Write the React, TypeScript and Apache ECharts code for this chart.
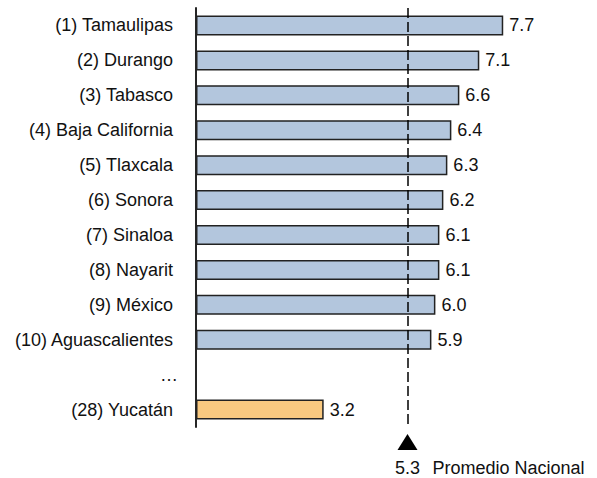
import React, { useEffect, useRef } from "react";
import * as echarts from "echarts";

const categories = [
  "(1) Tamaulipas",
  "(2) Durango",
  "(3) Tabasco",
  "(4) Baja California",
  "(5) Tlaxcala",
  "(6) Sonora",
  "(7) Sinaloa",
  "(8) Nayarit",
  "(9) México",
  "(10) Aguascalientes",
  "…",
  "(28) Yucatán",
];
const values: (number | null)[] = [7.7, 7.1, 6.6, 6.4, 6.3, 6.2, 6.1, 6.1, 6.0, 5.9, null, 3.2];
const highlighted = ["(28) Yucatán"];
const nationalAverage = 5.3;
const averageLabel = "Promedio Nacional";

const FONT = "'Liberation Sans', Arial, sans-serif";
const TEXT = "#111";
const FS = 18;

export default function App() {
  const ref = useRef<HTMLDivElement>(null);
  useEffect(() => {
    if (!ref.current) return;
    const chart = echarts.init(ref.current, null, { renderer: "svg" });
    const data = values.map((v, i) => ({
      value: v,
      itemStyle: {
        color: highlighted.includes(categories[i]) ? "#f9c980" : "#b3c6dd",
      },
    }));
    chart.setOption({
      animation: false,
      grid: { left: 196, top: 8, height: 419, width: 399, containLabel: false },
      xAxis: {
        type: "value",
        min: 0,
        max: 10,
        show: false,
      },
      yAxis: {
        type: "category",
        data: categories,
        inverse: true,
        axisLine: { show: true, lineStyle: { color: "#262626", width: 2 } },
        axisTick: { show: false },
        axisLabel: {
          color: TEXT,
          fontFamily: FONT,
          fontSize: FS,
          margin: 23,
          formatter: (v: string) => (v === "…" ? "{dots|" + v + "}" : v),
          rich: {
            dots: { color: TEXT, fontFamily: FONT, fontSize: FS, padding: [0, -5, 0, 0] },
          },
        },
        splitLine: { show: false },
      },
      series: [
        {
          type: "bar",
          data,
          barWidth: 20,
          itemStyle: { borderColor: "#222", borderWidth: 1.5 },
          label: {
            show: true,
            position: "right",
            distance: 6,
            color: TEXT,
            fontFamily: FONT,
            fontSize: FS,
            formatter: (p: any) => (p.value == null ? "" : Number(p.value).toFixed(1)),
          },
          markLine: {
            silent: true,
            symbol: "none",
            label: { show: false },
            lineStyle: { color: "#000", width: 1.5, type: [10, 4] },
            data: [{ xAxis: nationalAverage }],
          },
        },
      ],
    });
    const px = chart.convertToPixel({ xAxisIndex: 0 }, nationalAverage) as number;
    chart.setOption({
      graphic: [
        {
          type: "polygon",
          shape: { points: [[px, 434], [px - 10, 450], [px + 10, 450]] },
          style: { fill: "#000" },
        },
        {
          type: "text",
          x: px,
          y: 468,
          style: {
            text: nationalAverage.toFixed(1),
            fontSize: FS,
            fontFamily: FONT,
            fill: TEXT,
            align: "center",
            verticalAlign: "middle",
          },
        },
        {
          type: "text",
          x: px + 25,
          y: 468,
          style: {
            text: averageLabel,
            fontSize: FS,
            fontFamily: FONT,
            fill: TEXT,
            align: "left",
            verticalAlign: "middle",
          },
        },
      ],
    });
    return () => chart.dispose();
  }, []);
  return <div ref={ref} style={{ width: 597, height: 478, position: "absolute", left: 0, top: 0 }} />;
}
